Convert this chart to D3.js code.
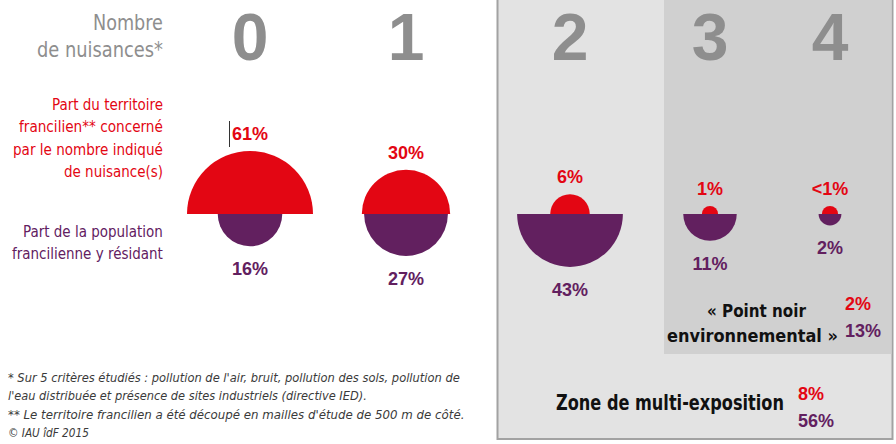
<!DOCTYPE html>
<html>
<head>
<meta charset="utf-8">
<script src="https://cdn.jsdelivr.net/npm/d3@7"></script>
<style>
  body { margin: 0; background: #fff; }
  svg { display: block; }
</style>
</head>
<body>
<div id="chart"></div>
<script>
// Data
const categories = ['0', '1', '2', '3', '4'];
const territoire = [61, 30, 6, 1, 1];
const territoireLabels = ['61%', '30%', '6%', '1%', '<1%'];
const population = [16, 27, 43, 11, 2];
const populationLabels = ['16%', '27%', '43%', '11%', '2%'];
const pointNoir = [2, 13];        // territoire, population
const multiExposition = [8, 56];  // territoire, population

const titleLines = ['Nombre', 'de nuisances*'];
const territoireLines = ['Part du territoire', 'francilien** concerné', 'par le nombre indiqué', 'de nuisance(s)'];
const populationLines = ['Part de la population', 'francilienne y résidant'];
const footnotes = [
  '* Sur 5 critères étudiés : pollution de l\'air, bruit, pollution des sols, pollution de',
  'l\'eau distribuée et présence de sites industriels (directive IED).',
  '** Le territoire francilien a été découpé en mailles d\'étude de 500 m de côté.',
  '© IAU îdF 2015'
];

// Layout
const width = 896, height = 444;
const RED = '#e30613', PURPLE = '#62205f', GREY = '#8e8e8e';
const FONT = "'Liberation Sans Narrow','Arial Narrow','DejaVu Sans Condensed','Liberation Sans',Arial,sans-serif";
const baseY = 214;

const svg = d3.select('#chart').append('svg')
  .attr('width', width)
  .attr('height', height)
  .style('font-family', FONT);

// squeeze text horizontally to the width it takes in the original
function fit(sel, w) {
  const n = sel.node().getComputedTextLength();
  const x0 = +sel.attr('x'), y0 = +sel.attr('y');
  return sel.attr('x', 0).attr('y', 0)
    .attr('transform', `translate(${x0},${y0}) scale(${w / n},1)`);
}

// Grey zones (2+ nuisances, and 3+ "point noir")
svg.append('rect')
  .attr('x', 497.5).attr('y', -2)
  .attr('width', 395).attr('height', 441)
  .attr('fill', '#e3e3e3')
  .attr('stroke', '#a2a2a2')
  .attr('stroke-width', 2);

svg.append('rect')
  .attr('x', 664).attr('y', 0)
  .attr('width', 227.5).attr('height', 354)
  .attr('fill', '#d0d0d0');

// Scales
const x = d3.scaleOrdinal()
  .domain(categories)
  .range([250, 406, 570, 710, 830]);

const r = d3.scaleSqrt()
  .domain([0, 61])
  .range([0, 63]);

const upper = d3.arc().innerRadius(0).startAngle(-Math.PI / 2).endAngle(Math.PI / 2);
const lower = d3.arc().innerRadius(0).startAngle(Math.PI / 2).endAngle(3 * Math.PI / 2);

// Big header numbers
svg.selectAll('.num')
  .data(categories)
  .join('text')
  .attr('class', 'num')
  .attr('x', d => x(d))
  .attr('y', 60)
  .attr('text-anchor', 'middle')
  .attr('font-family', "'Liberation Sans',Arial,sans-serif")
  .attr('font-weight', 'bold')
  .attr('font-size', 66)
  .attr('fill', GREY)
  .text(d => d);

// Half discs
const cols = categories.map((c, i) => ({
  cat: c, t: territoire[i], tl: territoireLabels[i], p: population[i], pl: populationLabels[i]
}));

const g = svg.selectAll('.col')
  .data(cols)
  .join('g')
  .attr('class', 'col')
  .attr('transform', d => `translate(${x(d.cat)},${baseY})`);

g.append('path')
  .attr('d', d => upper({ outerRadius: r(d.t) }))
  .attr('fill', RED);

g.append('path')
  .attr('d', d => lower({ outerRadius: r(d.p) }))
  .attr('fill', PURPLE);

g.append('text')
  .attr('y', d => -r(d.t) - 11)
  .attr('text-anchor', 'middle')
  .attr('font-family', "'Liberation Sans',Arial,sans-serif")
  .attr('font-weight', 'bold')
  .attr('font-size', 18)
  .attr('fill', RED)
  .text(d => d.tl);

g.append('text')
  .attr('y', d => r(d.p) + 29)
  .attr('text-anchor', 'middle')
  .attr('font-family', "'Liberation Sans',Arial,sans-serif")
  .attr('font-weight', 'bold')
  .attr('font-size', 18)
  .attr('fill', PURPLE)
  .text(d => d.pl);

// stray text cursor visible in the original
svg.append('line')
  .attr('x1', 229.5).attr('x2', 229.5)
  .attr('y1', 121).attr('y2', 147)
  .attr('stroke', '#333')
  .attr('stroke-width', 1);

// Left-hand labels (right aligned at x = 163)
function leftBlock(lines, widths, y0, step, size, color) {
  lines.forEach((t, i) => {
    fit(svg.append('text')
      .attr('x', 163 - widths[i])
      .attr('y', y0 + i * step)
      .attr('font-size', size)
      .attr('fill', color)
      .text(t), widths[i]);
  });
}
leftBlock(titleLines, [70, 126], 30, 27, 21, GREY);
leftBlock(territoireLines, [111, 144, 150, 99], 110, 22.3, 16.5, RED);
leftBlock(populationLines, [140, 151], 237, 22, 16.5, PURPLE);

// "Point noir environnemental"
fit(svg.append('text')
  .attr('x', 707).attr('y', 317)
  .attr('font-size', 18).attr('font-weight', 'bold').attr('fill', '#111')
  .text('« Point noir'), 99);
fit(svg.append('text')
  .attr('x', 667).attr('y', 342)
  .attr('font-size', 18).attr('font-weight', 'bold').attr('fill', '#111')
  .text('environnemental »'), 171);

svg.selectAll('.pn')
  .data(pointNoir)
  .join('text')
  .attr('class', 'pn')
  .attr('x', 845)
  .attr('y', (d, i) => 310 + i * 27)
  .attr('font-family', "'Liberation Sans',Arial,sans-serif")
  .attr('font-weight', 'bold')
  .attr('font-size', 18)
  .attr('fill', (d, i) => i === 0 ? RED : PURPLE)
  .text(d => d + '%');

// "Zone de multi-exposition"
fit(svg.append('text')
  .attr('x', 556).attr('y', 410)
  .attr('font-size', 21).attr('font-weight', 'bold').attr('fill', '#111')
  .text('Zone de multi-exposition'), 228);

svg.selectAll('.me')
  .data(multiExposition)
  .join('text')
  .attr('class', 'me')
  .attr('x', 798)
  .attr('y', (d, i) => 400 + i * 27)
  .attr('font-family', "'Liberation Sans',Arial,sans-serif")
  .attr('font-weight', 'bold')
  .attr('font-size', 18)
  .attr('fill', (d, i) => i === 0 ? RED : PURPLE)
  .text(d => d + '%');

// Footnotes
const footW = [452, 359, 457, 81];
footnotes.forEach((t, i) => {
  fit(svg.append('text')
    .attr('x', 8)
    .attr('y', 382 + i * 18.3)
    .attr('font-size', 12)
    .attr('font-style', 'italic')
    .attr('fill', '#3a3a3a')
    .text(t), footW[i]);
});
</script>
</body>
</html>
